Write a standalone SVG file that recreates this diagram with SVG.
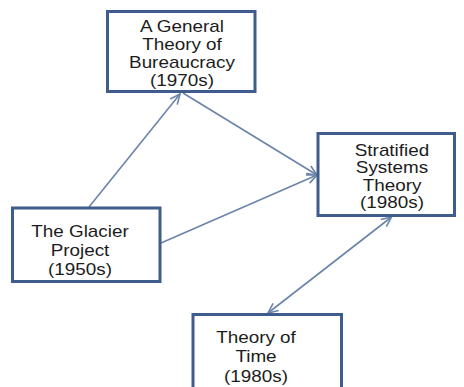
<svg xmlns="http://www.w3.org/2000/svg" width="464" height="387" viewBox="0 0 464 387">
<style>
.box{fill:#ffffff;stroke:#3f5d8c;stroke-width:3}
.lbl{font-family:"Liberation Sans",Arial,sans-serif;font-size:16px;fill:#1c1c1c;text-anchor:middle}
.conn{fill:none;stroke:#6b84aa;stroke-width:1.6}
</style>
<defs>
<marker id="arr" viewBox="0 0 12 12" refX="11" refY="6" markerWidth="12" markerHeight="12" markerUnits="userSpaceOnUse" orient="auto-start-reverse">
<path d="M1,1.5 L11,6 L1,10.5" fill="none" stroke="#6b84aa" stroke-width="1.6"/>
</marker>
</defs>
<rect width="464" height="387" fill="#ffffff"/>
<g id="connectors">
<line class="conn" x1="89" y1="207" x2="180" y2="94" marker-end="url(#arr)"/>
<line class="conn" x1="183" y1="93" x2="317" y2="175" marker-end="url(#arr)"/>
<line class="conn" x1="161" y1="243" x2="317" y2="175" marker-end="url(#arr)"/>
<line class="conn" x1="268" y1="313" x2="391.5" y2="217" marker-start="url(#arr)" marker-end="url(#arr)"/>
</g>
<g id="general-theory">
<rect class="box" x="107.5" y="11.5" width="147.5" height="80"/>
<g transform="matrix(1.18 0 0 1 182 0)">
<text class="lbl" x="0" y="32">A General</text>
<text class="lbl" x="0" y="50">Theory of</text>
<text class="lbl" x="0" y="68">Bureaucracy</text>
<text class="lbl" x="0" y="86.5">(1970s)</text>
</g>
</g>
<g id="glacier">
<rect class="box" x="12.5" y="208" width="147.5" height="73.5"/>
<g transform="matrix(1.18 0 0 1 80 0)">
<text class="lbl" x="0" y="237">The Glacier</text>
<text class="lbl" x="0" y="256">Project</text>
<text class="lbl" x="0" y="275">(1950s)</text>
</g>
</g>
<g id="stratified">
<rect class="box" x="318" y="133.5" width="136.5" height="82"/>
<g transform="matrix(1.18 0 0 1 392 0)">
<text class="lbl" x="0" y="156">Stratified</text>
<text class="lbl" x="0" y="173.5">Systems</text>
<text class="lbl" x="0" y="191">Theory</text>
<text class="lbl" x="0" y="208.5">(1980s)</text>
</g>
</g>
<g id="time">
<rect class="box" x="193" y="314.5" width="148.5" height="80"/>
<g transform="matrix(1.18 0 0 1 256 0)">
<text class="lbl" x="0" y="343.5">Theory of</text>
<text class="lbl" x="0" y="362.5">Time</text>
<text class="lbl" x="0" y="382">(1980s)</text>
</g>
</g>
</svg>
